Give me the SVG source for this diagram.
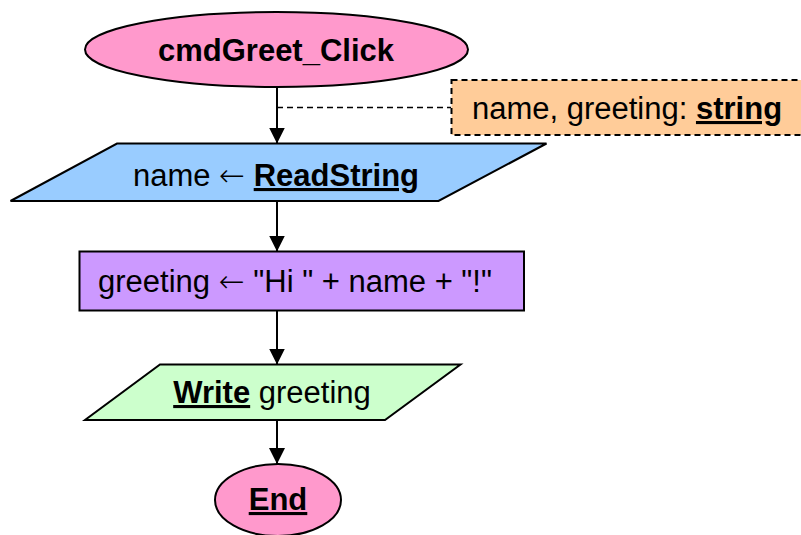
<svg xmlns="http://www.w3.org/2000/svg" width="801" height="535" viewBox="0 0 801 535">
  <style>
    .shape { stroke: #000; stroke-width: 2; }
    .terminal { fill: #FF99CC; }
    .input { fill: #99CCFF; }
    .process { fill: #CC99FF; }
    .output { fill: #CCFFCC; }
    .note { fill: #FFCC99; stroke: #000; stroke-width: 2; stroke-dasharray: 6 4; }
    .label { font-family: "Liberation Sans", Arial, sans-serif; font-size: 31px; fill: #000; text-anchor: middle; }
    .kw { font-weight: bold; text-decoration: underline; }
    .arr { font-family: "DejaVu Sans", sans-serif; font-weight: 200; }
    .flow { stroke: #000; stroke-width: 2; fill: none; marker-end: url(#arrow); }
    .link { stroke: #000; stroke-width: 1.5; fill: none; stroke-dasharray: 6 4; }
  </style>
  <defs>
    <marker id="arrow" viewBox="0 0 16 16" refX="16" refY="8" markerUnits="userSpaceOnUse" markerWidth="16" markerHeight="16" orient="auto">
      <path d="M0,0 L16,8 L0,16 Z" fill="#000"/>
    </marker>
  </defs>

  <!-- connectors -->
  <g id="connectors">
    <path class="link" d="M277,107.5 H451"/>
    <path class="flow" d="M277,87 V143.5"/>
    <path class="flow" d="M277,201 V251.5"/>
    <path class="flow" d="M277,310.5 V364.5"/>
    <path class="flow" d="M277,420 V464"/>
  </g>

  <g id="start">
    <ellipse class="shape terminal" cx="276.5" cy="49.5" rx="191.5" ry="37.5"/>
    <text class="label" x="276" y="61" font-weight="bold">cmdGreet_Click</text>
  </g>

  <g id="declarations">
    <rect class="note" x="451.5" y="80" width="352" height="55"/>
    <text class="label" x="627" y="119">name, greeting: <tspan class="kw">string</tspan></text>
  </g>

  <g id="read">
    <polygon class="shape input" points="117,143.5 546.5,143.5 438.5,201 10.5,201"/>
    <text class="label" x="276" y="186">name <tspan class="arr">←</tspan> <tspan class="kw">ReadString</tspan></text>
  </g>

  <g id="assign">
    <rect class="shape process" x="79.5" y="251.5" width="444.5" height="59"/>
    <text class="label" x="295" y="292">greeting <tspan class="arr">←</tspan> "Hi " + name + "!"</text>
  </g>

  <g id="write">
    <polygon class="shape output" points="160,364.5 460.5,364.5 385,420 85,420"/>
    <text class="label" x="272" y="403"><tspan class="kw">Write</tspan> greeting</text>
  </g>

  <g id="end">
    <ellipse class="shape terminal" cx="278" cy="500" rx="63" ry="36"/>
    <text class="label kw" x="278" y="510">End</text>
  </g>
</svg>
